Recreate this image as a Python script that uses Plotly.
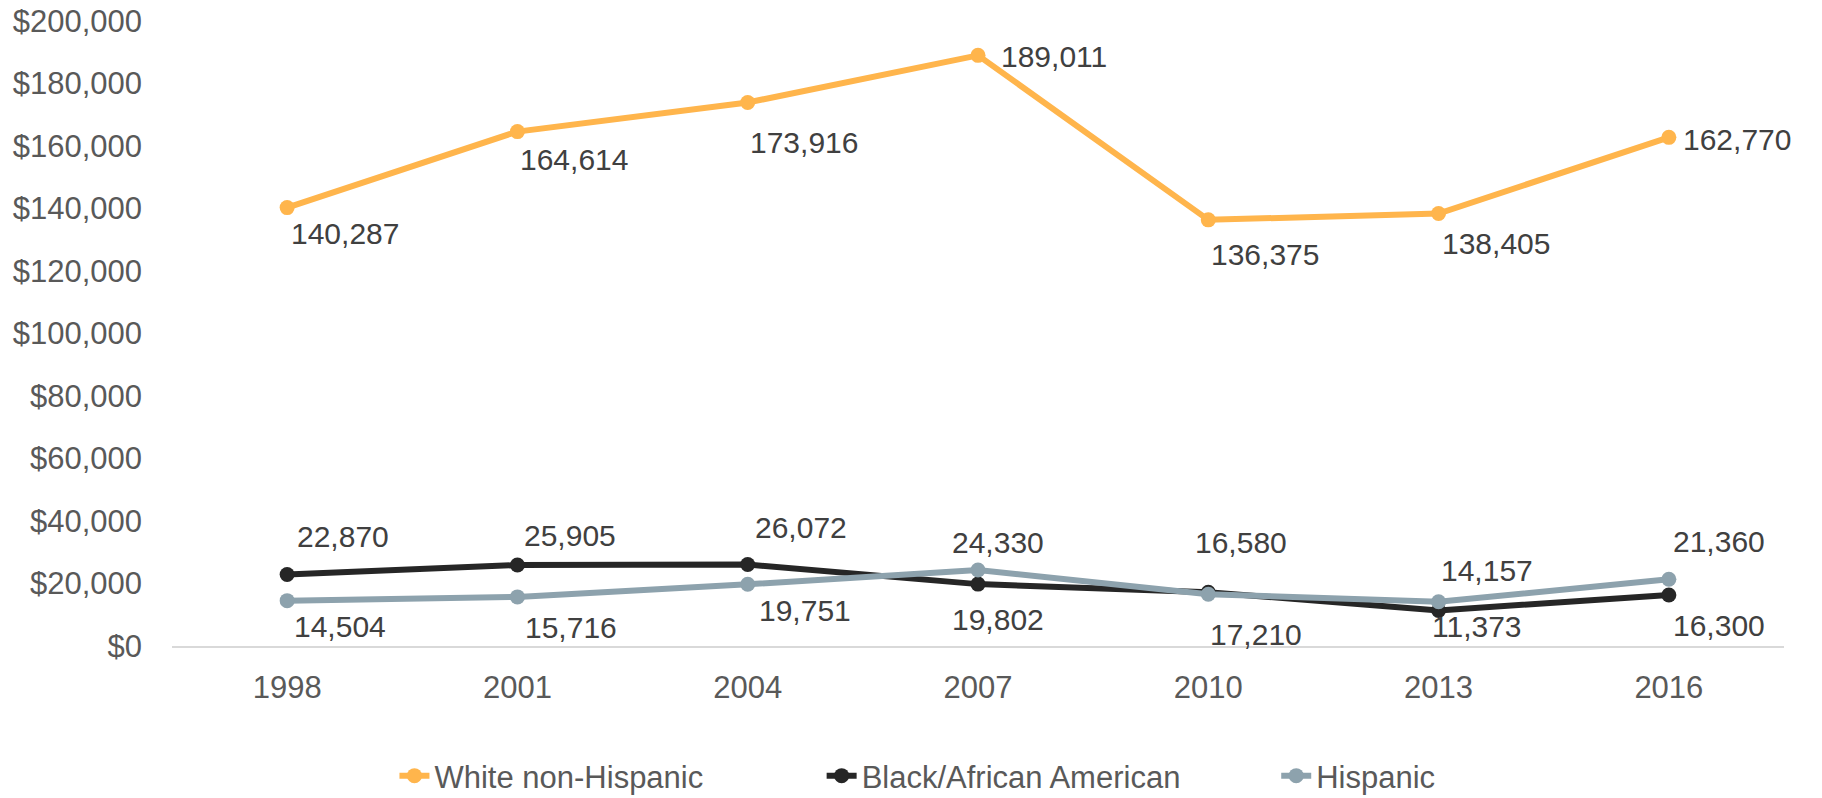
import plotly.graph_objects as go

years = ["1998", "2001", "2004", "2007", "2010", "2013", "2016"]
white = [140287, 164614, 173916, 189011, 136375, 138405, 162770]
black = [22870, 25905, 26072, 19802, 17210, 11373, 16300]
hispanic = [14504, 15716, 19751, 24330, 16580, 14157, 21360]

series = [
    ("White non-Hispanic", white, "#FFB54C", "legend"),
    ("Black/African American", black, "#262626", "legend2"),
    ("Hispanic", hispanic, "#8DA2AD", "legend3"),
]

# label offsets in pixels (dx, dy; dy positive = downward)
label_offsets = {
    "White non-Hispanic": [(58, 26), (57, 28), (56, 40), (76, 1), (57, 35), (57, 30), (68, 2)],
    "Black/African American": [(56, -38), (53, -30), (53, -37), (20, 35), (48, 42), (38, 16), (50, 30)],
    "Hispanic": [(53, 26), (54, 31), (57, 26), (20, -27), (33, -52), (48, -31), (50, -38)],
}

FONT = "Liberation Sans, Arial, sans-serif"
fig = go.Figure()
for name, vals, color, leg in series:
    fig.add_trace(go.Scatter(
        x=years, y=vals, name=name, mode="lines+markers",
        line=dict(color=color, width=6),
        marker=dict(color=color, size=15),
        legend=leg, cliponaxis=False,
    ))

for name, vals, color, leg in series:
    for i, v in enumerate(vals):
        dx, dy = label_offsets[name][i]
        fig.add_annotation(
            x=i, y=v, xref="x", yref="y", text=f"{v:,}", showarrow=False,
            xshift=dx, yshift=-dy, font=dict(family=FONT, size=30, color="#404040"),
        )

leg_common = dict(orientation="h", y=-0.208, xanchor="left", yanchor="middle",
                  font=dict(size=31, color="#595959"), bgcolor="rgba(0,0,0,0)")
fig.update_layout(
    width=1822, height=798,
    margin=dict(l=172, r=38, t=21, b=152, autoexpand=False),
    paper_bgcolor="white", plot_bgcolor="white",
    font=dict(family=FONT, size=31, color="#595959"),
    showlegend=True,
    legend=dict(x=0.138, **leg_common),
    legend2=dict(x=0.403, **leg_common),
    legend3=dict(x=0.685, **leg_common),
)
fig.update_xaxes(type="category", range=[-0.5, 6.5], showline=True, linecolor="#D9D9D9",
                 linewidth=2, showgrid=False, zeroline=False, ticks="", ticklabelstandoff=13,
                 tickfont=dict(size=31, color="#595959"))
fig.update_yaxes(range=[0, 200000], dtick=20000, tickprefix="$", tickformat=",",
                 showgrid=False, zeroline=False, showline=False, ticks="",
                 ticklabelstandoff=29, tickfont=dict(size=31, color="#595959"))

fig.write_html("out.html")
